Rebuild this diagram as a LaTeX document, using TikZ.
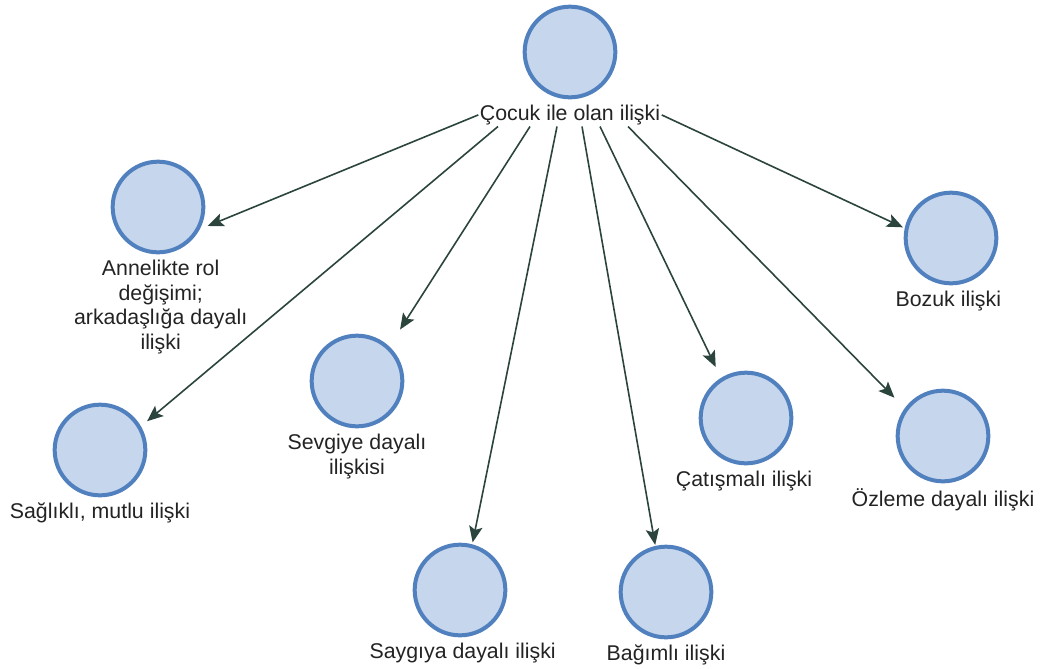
\documentclass[tikz,border=0pt]{standalone}
\usepackage{fontspec}
\setmainfont{Liberation Sans}
\usepackage{tikz}
\usetikzlibrary{positioning}
\usetikzlibrary{arrows.meta}
\usetikzlibrary{calc}

\definecolor{bubblefill}{RGB}{198,214,236}
\definecolor{bubbleline}{RGB}{80,128,190}
\definecolor{linkcol}{RGB}{44,68,62}
\definecolor{labelcol}{RGB}{35,35,35}

\tikzset{
	bubble/.style={circle, draw=bubbleline, fill=bubblefill, line width=3pt, minimum size=68pt, inner sep=0pt},
	caption/.style={text=labelcol, font=\fontsize{16}{18.5}\selectfont, align=center, inner sep=1pt, yshift=-3pt},
	link/.style={draw=linkcol, line width=1.2pt, -{Stealth[length=12pt,width=10pt,inset=2.5pt]}}
}

\begin{document}
\begin{tikzpicture}[x=0.75pt, y=-0.75pt]

	\useasboundingbox (0,0) rectangle (1041,668);

	\node [bubble] (cocuk) at (570,52) {};
	\node [bubble] (anne) at (158,207) {};
	\node [bubble] (saglikli) at (100,450) {};
	\node [bubble] (sevgi) at (357,381) {};
	\node [bubble] (saygi) at (460,590) {};
	\node [bubble] (bagimli) at (666,592) {};
	\node [bubble] (catisma) at (746,418) {};
	\node [bubble] (ozlem) at (943,436) {};
	\node [bubble] (bozuk) at (951,238) {};

	\node [caption, below=0pt of cocuk] (cocukt) {Çocuk ile olan ilişki};
	\node [caption, below=0pt of anne, xshift=2pt] (annet) {Annelikte rol\\değişimi;\\arkadaşlığa dayalı\\ilişki};
	\node [caption, below=0pt of saglikli] (saglikt) {Sağlıklı, mutlu ilişki};
	\node [caption, below=0pt of sevgi] (sevgit) {Sevgiye dayalı\\ilişkisi};
	\node [caption, below=0pt of saygi, xshift=2pt] (saygit) {Saygıya dayalı ilişki};
	\node [caption, below=0pt of bagimli] (bagimt) {Bağımlı ilişki};
	\node [caption, below=0pt of catisma, xshift=-1.5pt] (catismat) {Çatışmalı ilişki};
	\node [caption, below=0pt of ozlem] (ozlemt) {Özleme dayalı ilişki};
	\node [caption, below=0pt of bozuk, xshift=-2pt] (bozukt) {Bozuk ilişki};

	\draw [link, shorten >=6.4pt] (cocukt.west) -- (anne.-28);
	\draw [link, shorten >=6pt] ($(cocukt.south)+(-72,0)$) -- (saglikli.30);
	\draw [link, shorten >=15pt] ($(cocukt.south)+(-40,0)$) -- (sevgi.47);
	\draw [link, shorten >=1.5pt] ($(cocukt.south)+(-13,0)$) -- (saygi.75);
	\draw [link, shorten >=0.75pt] ($(cocukt.south)+(12,0)$) -- (bagimli.103);
	\draw [link, shorten >=9pt] ($(cocukt.south)+(30,0)$) -- (catisma.122);
	\draw [link, shorten >=11pt] ($(cocukt.south)+(58,0)$) -- (ozlem.144);
	\draw [link, shorten >=1.5pt] (cocukt.east) -- (bozuk.168);

\end{tikzpicture}
\end{document}
